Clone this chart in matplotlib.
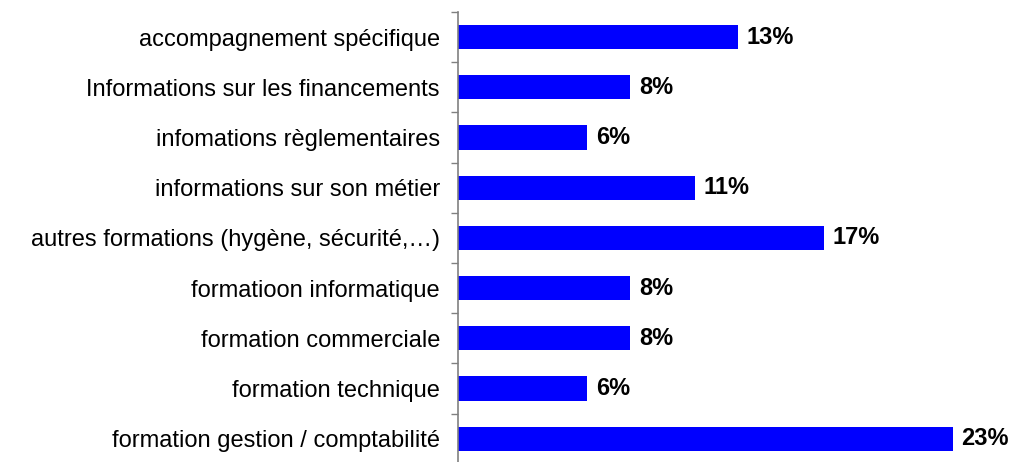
import matplotlib
matplotlib.use("Agg")
import matplotlib.pyplot as plt
from matplotlib.ticker import FixedLocator

categories = [
    "accompagnement spécifique",
    "Informations sur les financements",
    "infomations règlementaires",
    "informations sur son métier",
    "autres formations (hygène, sécurité,…)",
    "formatioon informatique",
    "formation commerciale",
    "formation technique",
    "formation gestion / comptabilité",
]
values = [13, 8, 6, 11, 17, 8, 8, 6, 23]
value_labels = ["13%", "8%", "6%", "11%", "17%", "8%", "8%", "6%", "23%"]

plt.rcParams['font.family'] = ['Liberation Sans', 'DejaVu Sans']

W, H = 1014, 462
fig = plt.figure(figsize=(W / 100, H / 100), dpi=100)
left_px, top_px = 458, 12
ax = fig.add_axes([left_px / W, 0, 1 - left_px / W, 1 - top_px / H])

n = len(categories)
pos = list(range(n))
ax.barh(pos, values, height=0.48, color="#0000FF", zorder=2)

unit_px = 50.2
span = (H - top_px) / unit_px
ax.set_ylim(-0.5 + span, -0.5)
px_per_pct = 21.5
ax.set_xlim(0, (W - left_px) / px_per_pct)

for p, v, lab in zip(pos, values, value_labels):
    ax.text(v + 9 / px_per_pct, p, lab, va="center", ha="left",
            fontsize=17, fontweight="bold", color="black")

ax.yaxis.set_major_locator(FixedLocator([i - 0.5 for i in range(n + 1)]))
ax.yaxis.set_major_formatter(plt.NullFormatter())
ax.yaxis.set_minor_locator(FixedLocator(pos))
ax.set_yticklabels(categories, minor=True, fontsize=17)
ax.tick_params(axis="y", which="major", length=5, width=1, color="#808080", direction="out")
ax.tick_params(axis="y", which="minor", length=0, pad=13)

ax.set_xticks([])
for s in ["top", "right", "bottom"]:
    ax.spines[s].set_visible(False)
ax.spines["left"].set_color("#808080")
ax.spines["left"].set_linewidth(1.2)

fig.savefig("out.png", dpi=100)
